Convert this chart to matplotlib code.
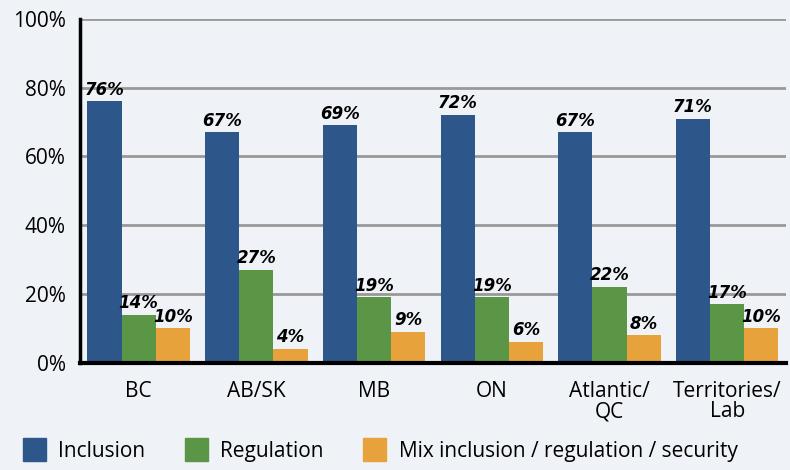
import matplotlib
matplotlib.use('Agg')
import numpy as np
import matplotlib.pyplot as plt
from matplotlib.patches import Patch

regions = ['BC', 'AB/SK', 'MB', 'ON', 'Atlantic/\nQC', 'Territories/\nLab']
inclusion = [76, 67, 69, 72, 67, 71]
regulation = [14, 27, 19, 19, 22, 17]
mixed = [10, 4, 9, 6, 8, 10]
series_names = ['Inclusion', 'Regulation', 'Mix inclusion / regulation / security']
yticks = [0, 20, 40, 60, 80, 100]

colours = ['#2d578b', '#5b9647', '#e8a23c']
bg = '#eff3f7'

fig = plt.figure(figsize=(7.9, 4.7), dpi=100, facecolor=bg)
ax = fig.add_axes([0.101, 0.228, 0.894, 0.732], facecolor=bg)

x = np.arange(len(regions))
w = 0.29
for k, vals in enumerate([inclusion, regulation, mixed]):
    pos = x + (k - 1) * w
    ax.bar(pos, vals, w, color=colours[k], zorder=3)
    for p, v in zip(pos, vals):
        ax.text(p, v + 0.8, '%d%%' % v, ha='center', va='bottom', fontsize=12,
                fontweight='bold', fontstyle='italic', family='DejaVu Sans Condensed',
                zorder=4)

ax.set_xlim(-0.5, len(regions) - 0.5)
ax.set_ylim(0, 100)
ax.set_yticks(yticks)
ax.set_yticklabels(['%d%%' % t for t in yticks])
ax.set_xticks(x)
ax.set_xticklabels(regions, linespacing=0.95)
for lbl in ax.get_xticklabels() + ax.get_yticklabels():
    lbl.set_family('Open Sans')
    lbl.set_fontsize(15)
ax.tick_params(axis='both', length=0)
ax.tick_params(axis='x', pad=13)
ax.tick_params(axis='y', pad=10)

ax.yaxis.grid(True, color='#999999', lw=2, zorder=1)
for s in ['top', 'right']:
    ax.spines[s].set_visible(False)
ax.spines['left'].set_linewidth(2.5)
ax.spines['bottom'].set_linewidth(3)
ax.spines['left'].set_zorder(5)
ax.spines['bottom'].set_zorder(5)

handles = [Patch(color=c) for c in colours]
leg = fig.legend(handles, series_names, loc='lower left', bbox_to_anchor=(0.005, -0.022),
                 ncol=3, frameon=False, handlelength=1.1, handleheight=1.3,
                 columnspacing=1.9, handletextpad=0.6,
                 prop={'family': 'Open Sans', 'size': 15})

fig.savefig('out.png', dpi=100, facecolor=bg)
